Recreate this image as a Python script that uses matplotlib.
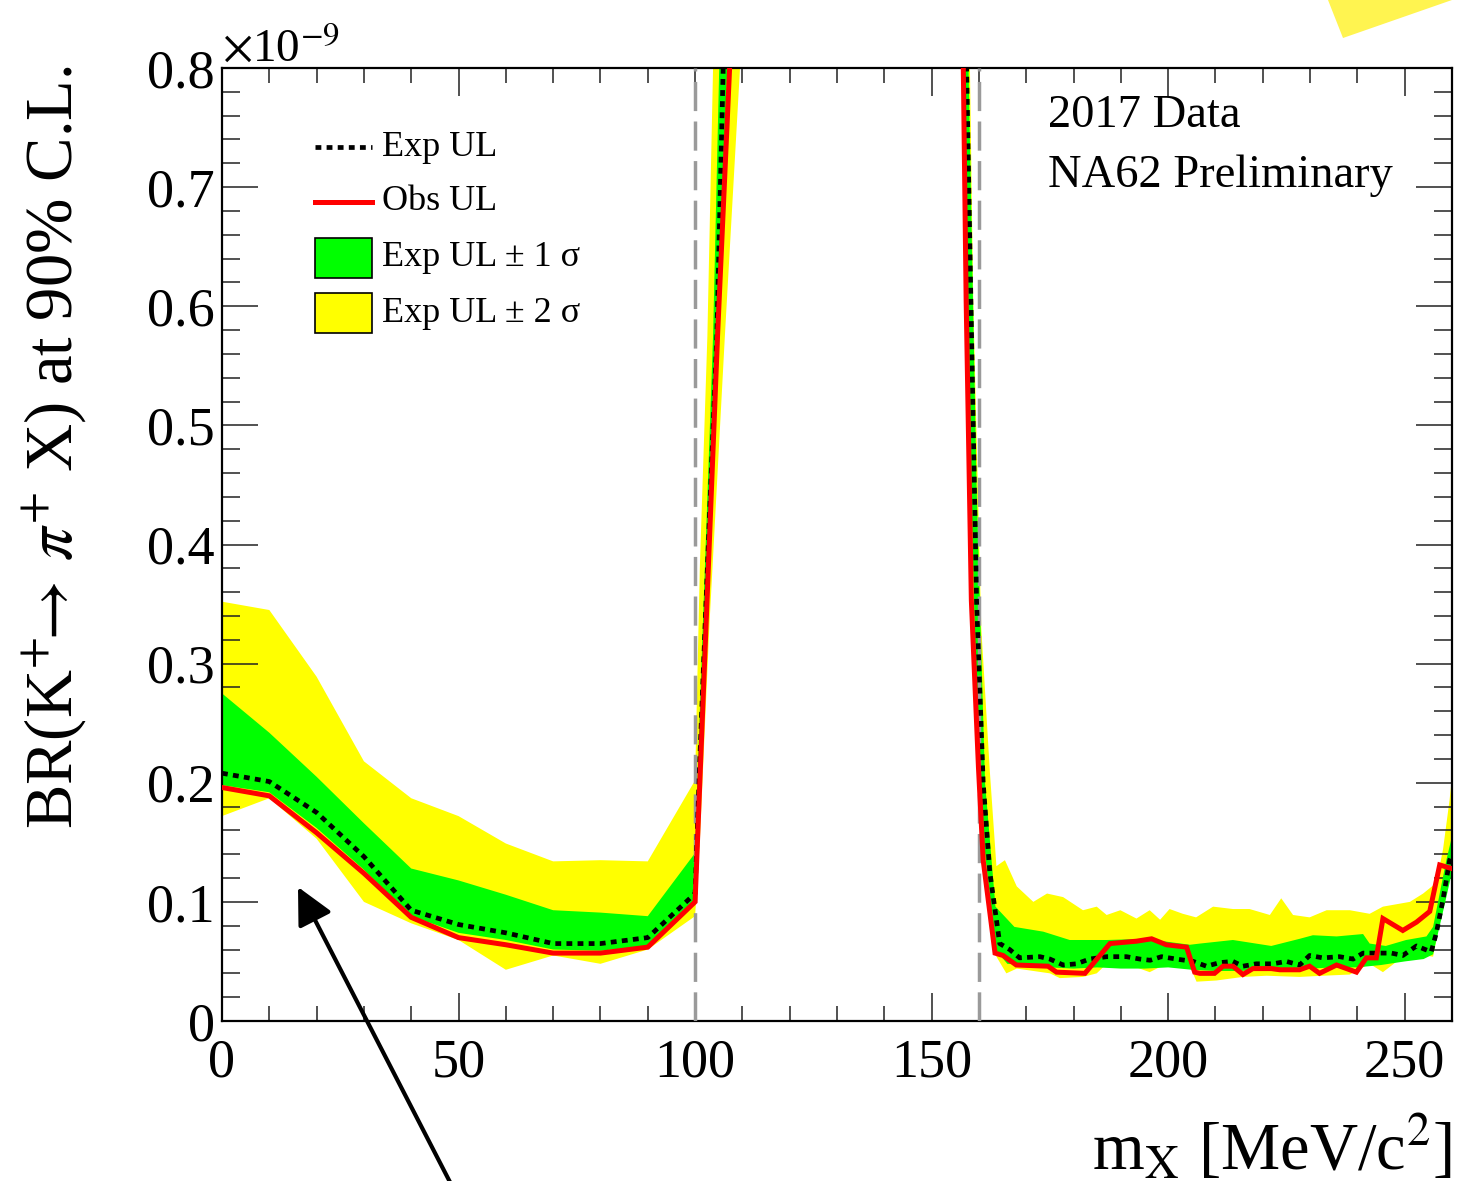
import numpy as np
import matplotlib
matplotlib.use("Agg")
import matplotlib.pyplot as plt
from matplotlib.patches import Rectangle, Polygon
from matplotlib.lines import Line2D

plt.rcParams['font.family'] = ['Liberation Serif', 'DejaVu Serif']
plt.rcParams['mathtext.fontset'] = 'stix'
plt.rcParams['lines.scale_dashes'] = False

# ---------------- data: upper limits (units of 1e-9) ----------------
# region below the pi0 mass gap
exp_left_x = [0, 10, 20, 30, 40, 50, 60, 70, 80, 90, 100, 101, 103, 104.6, 106, 108]
exp_left_y = [0.208, 0.201, 0.175, 0.138, 0.093, 0.081, 0.074, 0.065, 0.065, 0.070,
              0.107, 0.22, 0.42, 0.575, 0.81, 1.0]
obs_left_x = [0, 10, 20, 30, 40, 50, 60, 70, 80, 90, 100, 101, 103, 104.75, 107.3, 110]
obs_left_y = [0.196, 0.189, 0.158, 0.124, 0.087, 0.070, 0.064, 0.057, 0.057, 0.062,
              0.100, 0.20, 0.40, 0.575, 0.80, 1.05]
s2up_left_x = [0, 10, 20, 30, 40, 50, 60, 70, 80, 90, 100, 101, 102.6, 103.8, 106]
s2up_left_y = [0.352, 0.345, 0.289, 0.218, 0.187, 0.172, 0.149, 0.134, 0.135, 0.134,
               0.202, 0.38, 0.575, 0.80, 1.1]
s2lo_left_x = [0, 10, 20, 30, 40, 50, 60, 70, 80, 90, 100, 101, 103, 106.3, 109.5, 112]
s2lo_left_y = [0.172, 0.187, 0.153, 0.100, 0.082, 0.068, 0.043, 0.055, 0.048, 0.060,
               0.088, 0.15, 0.33, 0.575, 0.80, 0.95]
s1up_left_x = [0, 10, 20, 30, 40, 50, 60, 70, 80, 90, 100, 101, 103.8, 105.1, 107]
s1up_left_y = [0.275, 0.242, 0.205, 0.166, 0.128, 0.118, 0.106, 0.093, 0.091, 0.088,
               0.141, 0.26, 0.575, 0.80, 1.0]
s1lo_left_x = [0, 10, 20, 30, 40, 50, 60, 70, 80, 90, 100, 101, 103, 104.8, 106.8, 109]
s1lo_left_y = [0.198, 0.192, 0.162, 0.127, 0.088, 0.074, 0.068, 0.060, 0.059, 0.063,
               0.098, 0.19, 0.39, 0.575, 0.80, 1.0]

# region above the pi0 mass gap
exp_right_x = [155.5, 157.4, 158.3, 159.5, 160.9, 162.3, 164.4, 166.5, 168.6, 172.9,
               175.0, 177.8, 180.6, 183.4, 187.0, 191.2, 194.0, 196.2, 198.6, 201.7,
               205.3, 208.1, 210.9, 213.7, 215.8, 218.6, 222.1, 225.0, 227.8, 229.9,
               232.7, 236.2, 239.1, 241.2, 244.7, 247.2, 249.6, 252.5, 255.6, 256.7,
               258.1, 259.5, 260.0]
exp_right_y = [1.1, 0.80, 0.605, 0.353, 0.20, 0.125, 0.065, 0.060, 0.053, 0.054,
               0.052, 0.047, 0.048, 0.052, 0.054, 0.054, 0.052, 0.051, 0.054, 0.052,
               0.050, 0.046, 0.049, 0.050, 0.046, 0.048, 0.048, 0.050, 0.047, 0.055,
               0.053, 0.054, 0.052, 0.057, 0.057, 0.057, 0.055, 0.063, 0.058, 0.074,
               0.102, 0.135, 0.140]
obs_right_x = [155.8, 156.7, 157.3, 158.4, 159.9, 160.9, 163.4, 165.1, 167.9, 174.6,
               176.4, 182.4, 187.7, 193.3, 196.5, 199.6, 203.9, 205.6, 206.7, 209.8,
               211.6, 213.7, 215.8, 217.9, 221.8, 223.6, 227.8, 229.9, 232.0, 235.6,
               239.8, 241.9, 244.0, 245.4, 249.6, 252.5, 255.3, 257.4, 259.9]
obs_right_y = [1.0, 0.80, 0.605, 0.353, 0.213, 0.135, 0.057, 0.055, 0.047, 0.046,
               0.041, 0.040, 0.065, 0.067, 0.069, 0.064, 0.062, 0.041, 0.040, 0.040,
               0.046, 0.046, 0.039, 0.044, 0.044, 0.043, 0.043, 0.046, 0.040, 0.047,
               0.041, 0.053, 0.053, 0.086, 0.076, 0.083, 0.092, 0.131, 0.128]
s2up_right_x = [156.5, 158.1, 158.8, 160.5, 162.3, 163.7, 165.5, 168.0, 171.5, 174.4,
                177.8, 182.0, 184.9, 187.0, 189.9, 193.3, 196.1, 198.3, 200.3, 203.1,
                205.9, 209.5, 213.7, 217.2, 221.5, 223.9, 226.4, 229.9, 233.5, 238.4,
                242.6, 245.4, 251.1, 253.9, 256.7, 258.1, 259.5, 260.0]
s2up_right_y = [1.1, 0.80, 0.605, 0.33, 0.21, 0.13, 0.135, 0.113, 0.100, 0.107,
                0.104, 0.093, 0.096, 0.089, 0.093, 0.086, 0.093, 0.085, 0.094, 0.090,
                0.087, 0.096, 0.094, 0.094, 0.089, 0.103, 0.089, 0.087, 0.093, 0.093,
                0.090, 0.096, 0.100, 0.107, 0.116, 0.144, 0.186, 0.205]
s2lo_right_x = [156.0, 156.5, 157.2, 158.3, 159.7, 160.8, 163.7, 165.8, 168.0, 175.0,
                177.1, 182.0, 184.9, 187.0, 191.2, 196.1, 199.6, 204.6, 206.0, 210.2,
                215.8, 220.8, 227.8, 232.7, 238.4, 242.6, 245.4, 249.0, 252.5, 256.0,
                258.1, 259.5, 260.0]
s2lo_right_y = [1.0, 0.80, 0.60, 0.35, 0.20, 0.13, 0.054, 0.040, 0.044, 0.040,
                0.036, 0.037, 0.040, 0.048, 0.048, 0.041, 0.048, 0.046, 0.033, 0.034,
                0.037, 0.038, 0.037, 0.038, 0.039, 0.048, 0.041, 0.052, 0.056, 0.054,
                0.098, 0.130, 0.140]
s1up_right_x = [156.8, 157.8, 159.5, 161.3, 163.5, 167.5, 173.6, 179.2, 183.4, 187.0,
                195.1, 204.6, 206.7, 213.7, 221.8, 227.8, 230.6, 235.6, 241.2, 242.6,
                246.0, 250.3, 254.6, 256.0, 257.4, 258.8, 260.0]
s1up_right_y = [1.0, 0.80, 0.45, 0.20, 0.096, 0.079, 0.075, 0.068, 0.068, 0.068,
                0.069, 0.064, 0.065, 0.068, 0.063, 0.069, 0.072, 0.071, 0.073, 0.065,
                0.063, 0.068, 0.071, 0.079, 0.107, 0.135, 0.155]
s1lo_right_x = [156.3, 157.0, 158.0, 159.3, 160.5, 163.5, 166.0, 170.0, 175.0, 180.0,
                185.0, 190.0, 195.0, 200.0, 205.0, 210.0, 215.0, 220.0, 225.0, 230.0,
                235.0, 240.0, 245.0, 250.0, 254.0, 256.0, 258.0, 260.0]
s1lo_right_y = [1.0, 0.80, 0.50, 0.30, 0.17, 0.060, 0.048, 0.047, 0.045, 0.044,
                0.045, 0.044, 0.044, 0.045, 0.043, 0.042, 0.042, 0.043, 0.043, 0.044,
                0.045, 0.045, 0.047, 0.050, 0.052, 0.056, 0.090, 0.125]

gap_edges = [100, 160]
x_ticks = [0, 50, 100, 150, 200, 250]
y_ticks = [0, 0.1, 0.2, 0.3, 0.4, 0.5, 0.6, 0.7, 0.8]
y_tick_labels = ['0', '0.1', '0.2', '0.3', '0.4', '0.5', '0.6', '0.7', '0.8']

GREEN = '#00ff00'
YELLOW = '#ffff00'
RED = '#ff0000'

# ---------------- figure ----------------
W, H = 1473, 1181
fig = plt.figure(figsize=(W / 100, H / 100), dpi=100)
ax = fig.add_axes([222 / W, 1 - 1021 / H, (1452 - 222) / W, (1021 - 68) / H])


def band(ax, xu, yu, xl, yl, color, z):
    xs = np.concatenate([np.asarray(xu, float), np.asarray(xl, float)[::-1]])
    ys = np.concatenate([np.asarray(yu, float), np.asarray(yl, float)[::-1]])
    ax.fill(xs, ys, color=color, lw=0, zorder=z)


band(ax, s2up_left_x, s2up_left_y, s2lo_left_x, s2lo_left_y, YELLOW, 1)
band(ax, s2up_right_x, s2up_right_y, s2lo_right_x, s2lo_right_y, YELLOW, 1)
band(ax, s1up_left_x, s1up_left_y, s1lo_left_x, s1lo_left_y, GREEN, 2)
band(ax, s1up_right_x, s1up_right_y, s1lo_right_x, s1lo_right_y, GREEN, 2)

for xg in gap_edges:
    ax.axvline(xg, color='#9a9a9a', lw=2.5, dashes=(21, 7.5), zorder=3)

dot_style = dict(color='black', lw=3.4, dashes=(4.2, 3.8), zorder=4)
ax.plot(exp_left_x, exp_left_y, **dot_style)
ax.plot(exp_right_x, exp_right_y, **dot_style)
ax.plot(obs_left_x, obs_left_y, color=RED, lw=3.6, zorder=5, solid_joinstyle='miter')
ax.plot(obs_right_x, obs_right_y, color=RED, lw=3.6, zorder=5, solid_joinstyle='miter')

ax.set_xlim(0, 260)
ax.set_ylim(0, 0.8)
ax.set_xticks(x_ticks)
ax.set_xticks(np.arange(0, 261, 10), minor=True)
ax.set_yticks(y_ticks)
ax.set_yticklabels(y_tick_labels)
ax.set_yticks(np.arange(0, 0.801, 0.02), minor=True)
ax.tick_params(axis='both', which='both', direction='in', top=True, right=True,
               width=1.1, color='#222222')
ax.tick_params(axis='x', which='major', length=20, labelsize=39, pad=12)
ax.tick_params(axis='x', which='minor', length=11)
ax.tick_params(axis='y', which='major', length=26, labelsize=39, pad=5)
ax.tick_params(axis='y', which='minor', length=13)
for sp in ax.spines.values():
    sp.set_linewidth(1.6)

# exponent marker above the y axis
ax.text(0.0, 1.0066, r'$\times$10$^{-9}$', transform=ax.transAxes, fontsize=34,
        ha='left', va='baseline')

# axis titles
fig.text(1452 / W, 1 - 1170 / H, r'm$_{\mathrm{X}}$ [MeV/c$^{2}$]', fontsize=48,
         ha='right', va='baseline')
fig.text(55 / W, 1 - 65 / H, r'BR(K$^{+}\!\!\rightarrow\,\pi^{+}$ X) at 90% C.L.',
         fontsize=48, rotation=90, ha='center', va='top')

# header text
ax.text(0.6715, 0.938, '2017 Data', transform=ax.transAxes, fontsize=33.5,
        ha='left', va='baseline')
ax.text(0.6715, 0.8755, 'NA62 Preliminary', transform=ax.transAxes, fontsize=33.5,
        ha='left', va='baseline')

# legend
def fx(px):
    return (px - 222) / 1230


def fy(py):
    return (1021 - py) / 953


sym_x0, sym_x1, txt_x = fx(315), fx(372), fx(382)
rows = [147, 202, 258, 313]
ax.add_line(Line2D([sym_x0, sym_x1], [fy(rows[0])] * 2, transform=ax.transAxes,
                   **dot_style))
ax.add_line(Line2D([sym_x0, sym_x1], [fy(rows[1])] * 2, transform=ax.transAxes,
                   color=RED, lw=3.6, zorder=5))
for py, col in [(rows[2], GREEN), (rows[3], YELLOW)]:
    ax.add_patch(Rectangle((sym_x0, fy(py + 20)), sym_x1 - sym_x0, fy(py - 20) - fy(py + 20),
                           transform=ax.transAxes, facecolor=col, edgecolor='black',
                           lw=1.2, zorder=6))
labels = ['Exp UL', 'Obs UL', 'Exp UL \u00b1 1 \u03c3', 'Exp UL \u00b1 2 \u03c3']
for py, lab in zip(rows, labels):
    ax.text(txt_x, fy(py), lab, transform=ax.transAxes, fontsize=26,
            ha='left', va='center', zorder=7)

# pointer arrow
ax.annotate('', xy=(298 / W, 1 - 887 / H), xytext=(452 / W, 1 - 1186 / H),
            xycoords='figure fraction', textcoords='figure fraction',
            arrowprops=dict(arrowstyle='-|>,head_length=0.9,head_width=0.45',
                            lw=3.0, color='black', mutation_scale=25,
                            shrinkA=0, shrinkB=0),
            annotation_clip=False)

# yellow highlight shape at the top right corner
fig.patches.append(Polygon([(1328 / W, 1.0), (1452 / W, 1.0), (1343 / W, 1 - 38 / H)],
                           closed=True, transform=fig.transFigure,
                           facecolor='#fff450', edgecolor='none'))

fig.savefig('out.png', dpi=100)
